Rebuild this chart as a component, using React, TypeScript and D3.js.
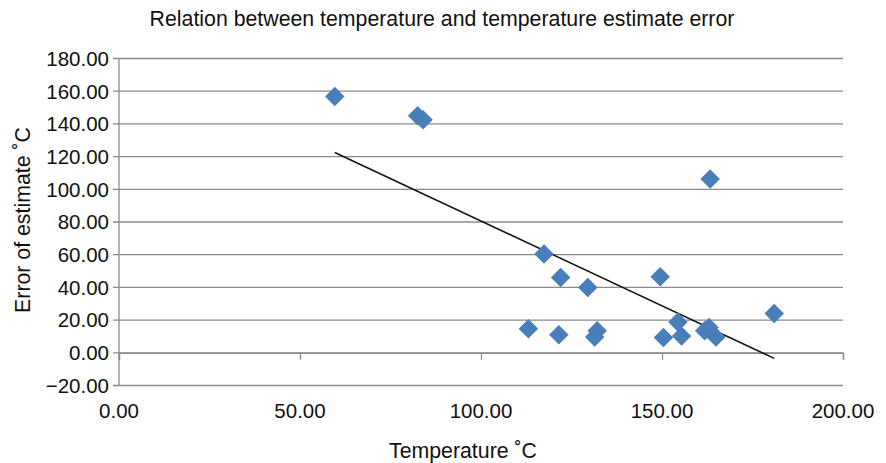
import { useEffect, useRef } from 'react';
import * as d3 from 'd3';

// temperature (°C) vs error of estimate (°C)
const temperature = [
    59.6, 82.5, 84.0, 117.4, 122.0, 129.5, 113.1, 121.5, 132.1, 131.4, 163.3, 149.5, 154.4, 150.4, 155.4,
    161.8, 163.0, 164.9, 181.0,
];
const estimateError = [
    156.8, 145.0, 142.5, 60.4, 46.1, 40.0, 14.7, 11.0, 13.5, 9.6, 106.3, 46.5, 18.8, 9.4, 10.2, 13.5, 15.5,
    9.6, 24.1,
];

// linear trend line end points
const trendX = [59.6, 181.0];
const trendY = [122.5, -3.4];

const xTicks = [0, 50, 100, 150, 200];
const yTicks = [-20, 0, 20, 40, 60, 80, 100, 120, 140, 160, 180];

const FONT = 'Liberation Sans, Arial, sans-serif';

export default function App() {
    const svgRef = useRef<SVGSVGElement>(null);

    useEffect(() => {
        if (!svgRef.current) return;
        const svg = d3.select(svgRef.current);
        svg.selectAll('*').remove();

        const width = 886;
        const height = 463;
        const left = 119;
        const right = 843;
        const top = 58.5;
        const bottom = 385.5;

        svg.attr('width', width).attr('height', height).style('display', 'block');
        svg.append('rect').attr('width', width).attr('height', height).attr('fill', '#fff');

        const x = d3.scaleLinear().domain([0, 200]).range([left, right]);
        const y = d3.scaleLinear().domain([-20, 180]).range([bottom, top]);

        // gridlines
        svg.append('g')
            .selectAll('line')
            .data(yTicks)
            .enter()
            .append('line')
            .attr('x1', left - 6)
            .attr('x2', right)
            .attr('y1', (d) => y(d))
            .attr('y2', (d) => y(d))
            .attr('stroke', '#8a8a8a')
            .attr('stroke-width', 1.3);

        // y axis line
        svg.append('line')
            .attr('x1', left)
            .attr('x2', left)
            .attr('y1', top)
            .attr('y2', bottom)
            .attr('stroke', '#8a8a8a')
            .attr('stroke-width', 1.3);

        // x axis crosses at 0
        const xAxis = d3
            .axisBottom(x)
            .tickValues(xTicks)
            .tickSize(7)
            .tickFormat(() => '');
        const xg = svg.append('g').attr('transform', `translate(0,${y(0)})`).call(xAxis);
        xg.select('.domain').attr('stroke', '#8a8a8a').attr('stroke-width', 1.3);
        xg.selectAll('.tick line').attr('stroke', '#8a8a8a').attr('stroke-width', 1.3);

        // tick labels
        svg.append('g')
            .selectAll('text')
            .data(yTicks)
            .enter()
            .append('text')
            .attr('x', left - 10)
            .attr('y', (d) => y(d))
            .attr('dy', '0.36em')
            .attr('text-anchor', 'end')
            .attr('font-family', FONT)
            .attr('font-size', 20.5)
            .attr('fill', '#111')
            .text((d) => d3.format('.2f')(d).replace('-', '\u2212'));

        svg.append('g')
            .selectAll('text')
            .data(xTicks)
            .enter()
            .append('text')
            .attr('x', (d) => x(d))
            .attr('y', 418)
            .attr('text-anchor', 'middle')
            .attr('font-family', FONT)
            .attr('font-size', 20.5)
            .attr('fill', '#111')
            .text((d) => d3.format('.2f')(d));

        // trend line
        const line = d3
            .line<number>()
            .x((d) => x(d))
            .y((_, i) => y(trendY[i]));
        svg.append('path')
            .datum(trendX)
            .attr('fill', 'none')
            .attr('stroke', '#111')
            .attr('stroke-width', 1.5)
            .attr('d', line);

        // diamonds
        const symbol = d3.symbol().type(d3.symbolSquare).size(190);
        svg.append('g')
            .selectAll('path')
            .data(temperature.map((t, i) => [t, estimateError[i]]))
            .enter()
            .append('path')
            .attr('d', symbol)
            .attr('transform', (d) => `translate(${x(d[0])},${y(d[1])}) rotate(45)`)
            .attr('fill', '#4a7ebb');

        // titles
        svg.append('text')
            .attr('x', 442)
            .attr('y', 26)
            .attr('text-anchor', 'middle')
            .attr('font-family', FONT)
            .attr('font-size', 21.3)
            .attr('fill', '#111')
            .text('Relation between temperature and temperature estimate error');

        svg.append('text')
            .attr('x', 463)
            .attr('y', 458)
            .attr('text-anchor', 'middle')
            .attr('font-family', FONT)
            .attr('font-size', 21.3)
            .attr('fill', '#111')
            .text('Temperature \u02daC');

        svg.append('text')
            .attr('transform', 'translate(30,220) rotate(-90)')
            .attr('text-anchor', 'middle')
            .attr('font-family', FONT)
            .attr('font-size', 21.3)
            .attr('fill', '#111')
            .text('Error of estimate \u02daC');
    }, []);

    return (
        <div style={{ position: 'absolute', left: 0, top: 0 }}>
            <svg ref={svgRef}></svg>
        </div>
    );
}
